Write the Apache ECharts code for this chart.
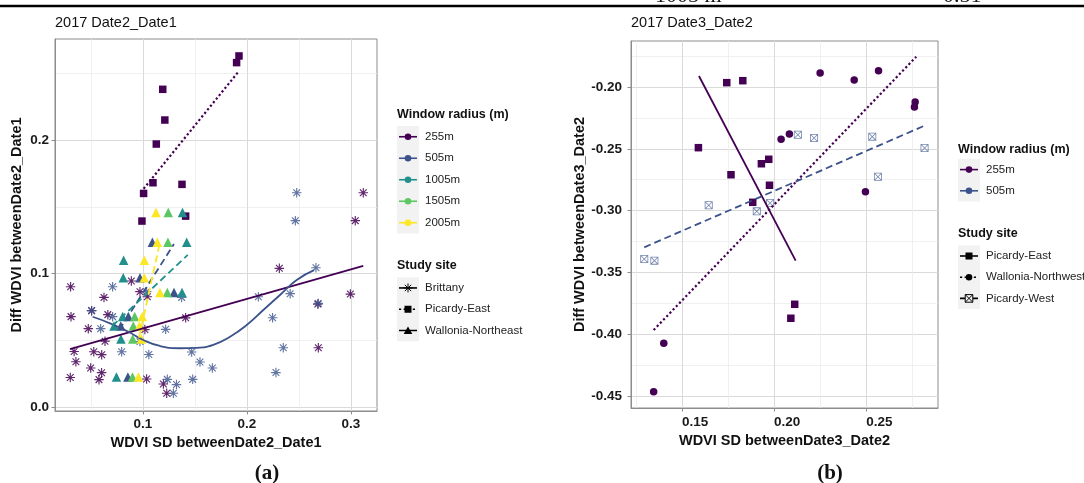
<!DOCTYPE html>
<html>
<head>
<meta charset="utf-8">
<script src="https://cdn.jsdelivr.net/npm/echarts@6/dist/echarts.min.js"></script>
<style>
  html, body { margin: 0; padding: 0; background: #fff; }
  #chart { width: 1084px; height: 483px; }
</style>
</head>
<body>
<div id="chart"></div>
<script>
// ---------- data ----------
var radii = ['255m', '505m', '1005m', '1505m', '2005m'];
var sitesA = ['Brittany', 'Picardy-East', 'Wallonia-Northeast'];
var sitesB = ['Picardy-East', 'Wallonia-Northwest', 'Picardy-West'];

var xTicksA = [0.1, 0.2, 0.3];
var yTicksA = [0.0, 0.1, 0.2];
var xTicksB = [0.15, 0.20, 0.25];
var yTicksB = [-0.45, -0.40, -0.35, -0.30, -0.25, -0.20];

// (a) 2017 Date2_Date1  -- [WDVI SD, Diff WDVI]
var britA255 = [[0.0304,0.0901],[0.0625,0.0821],[0.0888,0.0944],[0.0971,0.0864],[0.1042,0.0826],
  [0.0308,0.0677],[0.0506,0.0722],[0.0662,0.0692],[0.0474,0.0587],[0.1410,0.0668],[0.1018,0.0580],
  [0.0635,0.0493],[0.0338,0.0416],[0.0527,0.0414],[0.0603,0.0392],[0.0355,0.0339],[0.0497,0.0292],
  [0.0602,0.0257],[0.0577,0.0205],[0.0301,0.0221],[0.1035,0.0210],[0.1196,0.0172],[0.1228,0.0103],
  [0.2311,0.1039],[0.2681,0.0771],[0.2994,0.0846],[0.2686,0.0444],[0.3118,0.1605],[0.3041,0.1396]];
var britA505 = [[0.0708,0.0901],[0.1035,0.0864],[0.1372,0.0821],[0.0506,0.0722],[0.0708,0.0677],
  [0.0593,0.0587],[0.1218,0.0582],[0.0971,0.0490],[0.0795,0.0414],[0.1056,0.0393],[0.1234,0.0207],
  [0.1292,0.0103],[0.1322,0.0168],[0.1478,0.0207],[0.1468,0.0412],[0.1548,0.0337],[0.1667,0.0292],
  [0.2109,0.0826],[0.2246,0.0669],[0.2415,0.0849],[0.2663,0.1043],[0.2686,0.0776],[0.2349,0.0444],
  [0.2278,0.0258],[0.2478,0.1605],[0.2465,0.1396]];
var picEastA255 = [[0.1923,0.2630],[0.1900,0.2580],[0.1190,0.2380],[0.1210,0.2150],[0.1128,0.1970],
  [0.1096,0.1680],[0.1375,0.1668],[0.1006,0.1600],[0.0990,0.1393],[0.1410,0.1430]];
var walA505 = [[0.1090,0.1234],[0.0971,0.0968],[0.1298,0.0858],[0.0859,0.0678],[0.0786,0.0607],[0.0855,0.0225]];
var walA1005 = [[0.1380,0.1458],[0.1420,0.1234],[0.0814,0.1100],[0.0810,0.0968],[0.1375,0.0858],
  [0.0805,0.0678],[0.0721,0.0607],[0.0788,0.0509],[0.0745,0.0225]];
var walA1505 = [[0.1243,0.1458],[0.1240,0.1234],[0.1234,0.0858],[0.0920,0.0678],[0.0907,0.0607],
  [0.0901,0.0509],[0.0899,0.0225]];
var walA2005 = [[0.1125,0.1458],[0.1138,0.1234],[0.1013,0.1100],[0.1013,0.0968],[0.1163,0.0858],
  [0.0993,0.0678],[0.0965,0.0607],[0.0985,0.0509],[0.0956,0.0225]];

// fitted lines in (a)
var fitBritA255 = [[0.0298,0.0434],[0.3118,0.1058]];
var fitBritA505 = [[0.0516,0.0676],[0.0683,0.0627],[0.0859,0.0564],[0.1003,0.0502],[0.1163,0.0457],
  [0.1356,0.0440],[0.1516,0.0443],[0.1676,0.0466],[0.1837,0.0527],[0.1997,0.0614],[0.2157,0.0727],
  [0.2317,0.0839],[0.2478,0.0951],[0.2645,0.1025]];
var fitPicEastA255 = [[0.1006,0.1635],[0.1923,0.2517]];
var fitWalA505 = [[0.0772,0.0577],[0.1298,0.1221]];
var fitWalA1005 = [[0.0705,0.0607],[0.1430,0.1139]];
var fitWalA2005 = [[0.0962,0.0520],[0.1160,0.1222]];

// (b) 2017 Date3_Date2
var picEastB255 = [[0.1589,-0.2491],[0.1743,-0.1965],[0.1830,-0.1949],[0.1766,-0.2710],[0.1931,-0.2621],
  [0.1971,-0.2585],[0.1975,-0.2795],[0.1884,-0.2933],[0.2091,-0.3871],[0.2112,-0.3758]];
var walNWB255 = [[0.2038,-0.2423],[0.2083,-0.2380],[0.2250,-0.1887],[0.2435,-0.1943],[0.2567,-0.1868],
  [0.2766,-0.2121],[0.2762,-0.2162],[0.2496,-0.2847],[0.1401,-0.4074],[0.1346,-0.4465]];
var picWestB505 = [[0.2129,-0.2386],[0.2217,-0.2413],[0.2533,-0.2402],[0.2564,-0.2726],[0.2817,-0.2494],
  [0.1645,-0.2957],[0.1906,-0.3006],[0.1978,-0.2939],[0.1295,-0.3392],[0.1350,-0.3405]];

var fitPicEastB255 = [[0.1592,-0.1911],[0.2117,-0.3405]];
var fitWalNWB255 = [[0.1346,-0.3966],[0.2772,-0.1755]];
var fitPicWestB505 = [[0.1295,-0.3297],[0.2817,-0.2313]];

// ---------- styling ----------
var viridis = ['#440154', '#3B528B', '#21908C', '#5DC863', '#FDE725'];
var FONT = '"Liberation Sans", Arial, sans-serif';
var SERIF = '"Liberation Serif", "Times New Roman", serif';
var DOTTED = [2.2, 2.4], DASHED = [7, 4];

var SYM_ASTER = 'path://M0 8.8H20V11.2H0Z M8.8 0H11.2V20H8.8Z M3.78 2.08L17.92 16.22L16.22 17.92L2.08 3.78Z M16.22 2.08L17.92 3.78L3.78 17.92L2.08 16.22Z';
var SYM_BOXX = 'path://M0 0H20V20H0Z M2 2V18H18V2Z M1.4 0L20 18.6L18.6 20L0 1.4Z M18.6 0L20 1.4L1.4 20L0 18.6Z';

var myChart = echarts.init(document.getElementById('chart'), null, { renderer: 'canvas' });

function xAxisCfg(grid, min, max, ticks, digits, name, split, margin, nameGap, align) {
  return {
    type: 'value', gridIndex: grid, min: min, max: max, splitNumber: split,
    name: name, nameLocation: 'middle', nameGap: nameGap,
    nameTextStyle: { fontFamily: FONT, fontWeight: 'bold', fontSize: 14.5, color: '#111' },
    axisLine: { show: true, onZero: false, lineStyle: { color: '#8c8c8c', width: 1 } },
    axisTick: { show: true, length: 3.5, customValues: ticks, lineStyle: { color: '#8c8c8c' } },
    axisLabel: {
      customValues: ticks, margin: margin, align: align,
      formatter: function (v) { return v.toFixed(digits); },
      fontFamily: FONT, fontWeight: 'bold', fontSize: 13.5, color: '#1a1a1a'
    },
    splitLine: { show: true, lineStyle: { color: '#dadada', width: 1 } },
    minorTick: { show: false, splitNumber: 2 },
    minorSplitLine: { show: true, lineStyle: { color: '#ececec', width: 0.8 } }
  };
}

function yAxisCfg(grid, min, max, ticks, digits, name, split, margin, nameGap) {
  var a = xAxisCfg(grid, min, max, ticks, digits, name, split, margin, nameGap);
  delete a.axisLabel.align;
  return a;
}

function points(grid, data, symbol, color, size, opacity) {
  return {
    type: 'scatter', xAxisIndex: grid, yAxisIndex: grid, data: data,
    symbol: symbol, symbolSize: size, silent: true,
    itemStyle: { color: color, opacity: opacity || 1 }
  };
}

function fit(grid, data, color, dash, smooth) {
  return {
    type: 'line', xAxisIndex: grid, yAxisIndex: grid, data: data,
    symbol: 'none', smooth: !!smooth, silent: true, z: 3,
    lineStyle: { color: color, width: dash === DOTTED ? 2.2 : 1.8, type: dash }
  };
}

// ---------- legend built from the category arrays ----------
function keySymbol(shape, cx, cy, color) {
  var s = { fill: color };
  if (shape === 'circle') return [{ type: 'circle', shape: { cx: cx, cy: cy, r: 3.3 }, style: s }];
  if (shape === 'rect') return [{ type: 'rect', shape: { x: cx - 3.5, y: cy - 3.5, width: 7, height: 7 }, style: s }];
  if (shape === 'triangle') return [{ type: 'polygon', shape: { points: [[cx, cy - 4], [cx + 4.3, cy + 3.4], [cx - 4.3, cy + 3.4]] }, style: s }];
  var st = { stroke: color, lineWidth: 1 };
  if (shape === 'aster') {
    var out = [];
    [0, 45, 90, 135].forEach(function (deg) {
      var r = 4.5, a = deg * Math.PI / 180;
      out.push({ type: 'line', shape: { x1: cx - r * Math.cos(a), y1: cy - r * Math.sin(a), x2: cx + r * Math.cos(a), y2: cy + r * Math.sin(a) }, style: st });
    });
    return out;
  }
  // boxed x
  return [
    { type: 'rect', shape: { x: cx - 3.8, y: cy - 3.8, width: 7.6, height: 7.6 }, style: { stroke: color, fill: '#F2F2F2', lineWidth: 1 } },
    { type: 'line', shape: { x1: cx - 3.8, y1: cy - 3.8, x2: cx + 3.8, y2: cy + 3.8 }, style: st },
    { type: 'line', shape: { x1: cx + 3.8, y1: cy - 3.8, x2: cx - 3.8, y2: cy + 3.8 }, style: st }
  ];
}

function legendBlock(x, titleY, title, rowsTop, rowH, labels, styles) {
  var els = [{
    type: 'text', x: x, y: titleY,
    style: { text: title, font: 'bold 12.5px ' + FONT, fill: '#111', textVerticalAlign: 'middle', verticalAlign: 'middle' }
  }, {
    type: 'rect', shape: { x: x, y: rowsTop, width: 22, height: rowH * labels.length }, style: { fill: '#F2F2F2' }
  }];
  labels.forEach(function (lab, i) {
    var cy = rowsTop + rowH * (i + 0.5), st = styles[i];
    els.push({ type: 'line', shape: { x1: x + 2, y1: cy, x2: x + 20, y2: cy },
      style: { stroke: st.color, lineWidth: 1.6, lineDash: st.dash || null } });
    els = els.concat(keySymbol(st.shape, x + 11, cy, st.color));
    els.push({ type: 'text', x: x + 28, y: cy,
      style: { text: lab, font: '11.5px ' + FONT, fill: '#222', textVerticalAlign: 'middle', verticalAlign: 'middle' } });
  });
  return els;
}

function plainText(x, y, txt, font, align, vAlign) {
  return { type: 'text', x: x, y: y,
    style: { text: txt, font: font, fill: '#111', textAlign: align, align: align,
             textVerticalAlign: vAlign, verticalAlign: vAlign } };
}

var graphics = [
  { type: 'rect', shape: { x: 0, y: 4.8, width: 1084, height: 2.4 }, style: { fill: '#000' } },
  plainText(655, 7, '1005 m', '22px ' + SERIF, 'left', 'bottom'),
  plainText(943, 7, '0.51', '22px ' + SERIF, 'left', 'bottom'),
  plainText(55, 23.4, '2017 Date2_Date1', '14.5px ' + FONT, 'left', 'middle'),
  plainText(631, 23.4, '2017 Date3_Date2', '14.5px ' + FONT, 'left', 'middle'),
  plainText(267, 474, '(a)', 'bold 21px ' + SERIF, 'center', 'middle'),
  plainText(830, 474, '(b)', 'bold 21px ' + SERIF, 'center', 'middle')
];

graphics = graphics
  .concat(legendBlock(397, 115, 'Window radius (m)', 126, 21.5, radii,
    radii.map(function (r, i) { return { color: viridis[i], shape: 'circle' }; })))
  .concat(legendBlock(397, 266, 'Study site', 277.3, 21.3, sitesA, [
    { color: '#000', shape: 'aster' },
    { color: '#000', shape: 'rect', dash: DOTTED },
    { color: '#000', shape: 'triangle', dash: DASHED }]))
  .concat(legendBlock(958, 149.3, 'Window radius (m)', 159, 21.2, radii.slice(0, 2),
    [{ color: viridis[0], shape: 'circle' }, { color: viridis[1], shape: 'circle' }]))
  .concat(legendBlock(958, 234, 'Study site', 245.4, 21.2, sitesB, [
    { color: '#000', shape: 'rect' },
    { color: '#000', shape: 'circle', dash: DOTTED },
    { color: '#000', shape: 'boxx', dash: DASHED }]));

var option = {
  animation: false,
  backgroundColor: '#fff',
  grid: [
    { left: 55, top: 39, width: 322, height: 372, show: true, borderColor: '#8c8c8c', borderWidth: 1, backgroundColor: '#fff', outerBoundsMode: 'none' },
    { left: 631, top: 41, width: 307, height: 367, show: true, borderColor: '#8c8c8c', borderWidth: 1, backgroundColor: '#fff', outerBoundsMode: 'none' }
  ],
  xAxis: [
    xAxisCfg(0, 0.0154, 0.325, xTicksA, 1, 'WDVI SD betweenDate2_Date1', 3, 6, 22.5, 'center'),
    xAxisCfg(1, 0.1223, 0.289, xTicksB, 2, 'WDVI SD betweenDate3_Date2', 3, 7, 22.5, 'left')
  ],
  yAxis: [
    yAxisCfg(0, -0.003, 0.2757, yTicksA, 1, 'Diff WDVI betweenDate2_Date1', 3, 6, 31),
    yAxisCfg(1, -0.4597, -0.1628, yTicksB, 2, 'Diff WDVI betweenDate3_Date2', 6, 9, 44)
  ],
  graphic: { elements: graphics },
  series: [
    points(0, britA255, SYM_ASTER, viridis[0], 9.5, 0.85),
    points(0, britA505, SYM_ASTER, viridis[1], 9.5, 0.8),
    points(0, picEastA255, 'rect', viridis[0], 7.5),
    points(0, walA505, 'triangle', viridis[1], 9.5),
    points(0, walA1005, 'triangle', viridis[2], 9.5),
    points(0, walA1505, 'triangle', viridis[3], 9.5),
    points(0, walA2005, 'triangle', viridis[4], 9.5),
    fit(0, fitBritA255, viridis[0], 'solid'),
    fit(0, fitBritA505, viridis[1], 'solid', 0.5),
    fit(0, fitPicEastA255, viridis[0], DOTTED),
    fit(0, fitWalA505, viridis[1], DASHED),
    fit(0, fitWalA1005, viridis[2], DASHED),
    fit(0, fitWalA2005, viridis[4], DASHED),

    points(1, picEastB255, 'rect', viridis[0], 7.5),
    points(1, walNWB255, 'circle', viridis[0], 7.5),
    points(1, picWestB505, SYM_BOXX, viridis[1], 8, 0.7),
    fit(1, fitPicEastB255, viridis[0], 'solid'),
    fit(1, fitWalNWB255, viridis[0], DOTTED),
    fit(1, fitPicWestB505, viridis[1], DASHED)
  ]
};

myChart.setOption(option);
</script>
</body>
</html>
